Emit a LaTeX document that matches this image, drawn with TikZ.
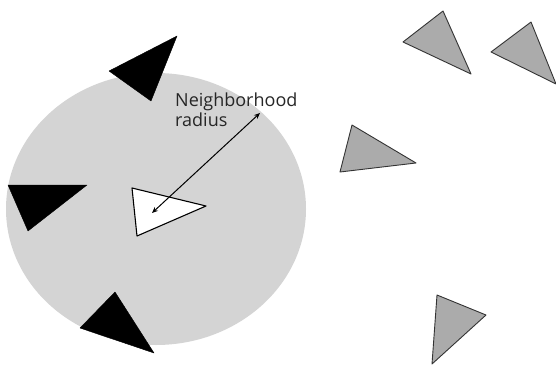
\documentclass[tikz,border=0pt]{standalone}
\usepackage{fontspec}
\setmainfont{Open Sans}
\usetikzlibrary{arrows.meta}
\definecolor{circgray}{HTML}{D4D4D4}
\definecolor{trigray}{HTML}{ABABAB}
\begin{document}
\begin{tikzpicture}[x=1pt,y=-1pt,
  blacktri/.style={fill=black,draw=black,line join=round},
  graytri/.style={fill=trigray,draw=black!80,line width=0.9pt,line join=round},
  whitetri/.style={fill=white,draw=black,line width=1.1pt,line join=round},
  radarrow/.style={{Stealth[length=6pt,width=5pt]}-{Stealth[length=6pt,width=5pt]},line width=1pt}]
\useasboundingbox (0,0) rectangle (556,366);
% neighborhood
\fill[circgray] (156,209) ellipse [x radius=150, y radius=136];
% black neighbours
\draw[blacktri] (177,36) -- (109,71) -- (151,101) -- cycle;
\draw[blacktri] (8,185) -- (87,185) -- (28,231) -- cycle;
\draw[blacktri] (115,292) -- (80,328) -- (154,353) -- cycle;
% focal agent
\draw[whitetri] (132,188) -- (206,206) -- (137,236) -- cycle;
% gray agents
\draw[graytri] (443,11) -- (403,42) -- (471,74) -- cycle;
\draw[graytri] (531,22) -- (491,52) -- (556,84) -- cycle;
\draw[graytri] (352,125) -- (340,172) -- (416,163) -- cycle;
\draw[graytri] (437,295) -- (432,364) -- (486,315) -- cycle;
% radius
\coordinate (c) at (152,213);
\coordinate (r) at (260,113);
\draw[radarrow] (c) -- (r);
\node[anchor=north west,align=left,font=\fontsize{18}{20}\selectfont,text=black!85,inner sep=0pt] (lbl) at (175,93) {Neighborhood\\radius};
\end{tikzpicture}
\end{document}
